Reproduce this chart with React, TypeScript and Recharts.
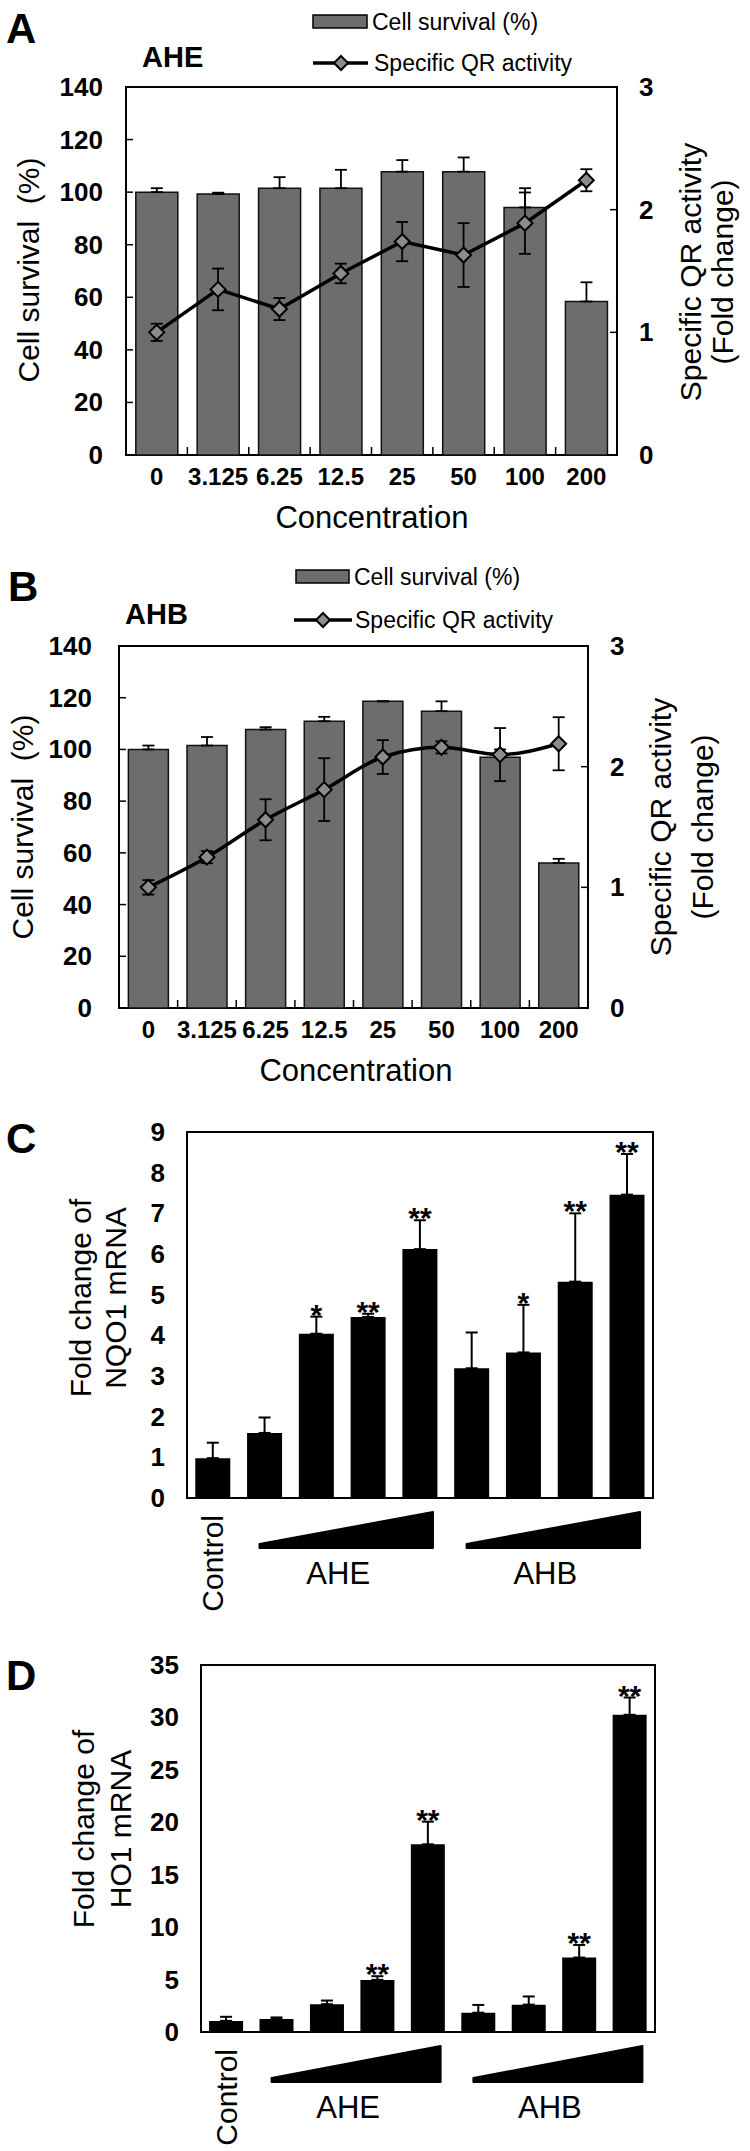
import React from "react";
import {
  ComposedChart,
  Bar,
  Line,
  XAxis,
  YAxis,
  ErrorBar,
  ReferenceArea,
  LabelList,
} from "recharts";

const FONT = "'Liberation Sans', Arial, Helvetica, sans-serif";

// ---------- Panels A & B : cell survival + specific QR activity ----------
const concentrations = ["0", "3.125", "6.25", "12.5", "25", "50", "100", "200"];

const survivalAHE = [100, 99.3, 101.5, 101.5, 107.8, 107.8, 94.2, 58.4];
const survivalErrAHE = [1.5, 0.5, 4.2, 7.0, 4.4, 5.4, 7.3, 7.3];
const qrAHE = [1.0, 1.35, 1.19, 1.48, 1.74, 1.63, 1.89, 2.24];
const qrErrAHE = [0.07, 0.17, 0.09, 0.08, 0.16, 0.26, 0.25, 0.09];

const survivalAHB = [100, 101.5, 107.7, 110.9, 118.6, 114.8, 97, 56.1];
const survivalErrAHB = [1.5, 3.3, 0.9, 1.7, 0, 3.8, 3, 1.6];
const qrAHB = [1.0, 1.25, 1.56, 1.81, 2.08, 2.16, 2.1, 2.19];
const qrErrAHB = [0.06, 0.05, 0.17, 0.26, 0.14, 0.05, 0.22, 0.22];

const survivalTicks = [0, 20, 40, 60, 80, 100, 120, 140];
const qrTicks = [0, 1, 2, 3];

// ---------- Panels C & D : mRNA fold change ----------
const treatments = ["Control", "AHE 1", "AHE 2", "AHE 3", "AHE 4", "AHB 1", "AHB 2", "AHB 3", "AHB 4"];
const groupLabels = ["AHE", "AHB"];

const nqo1 = [0.98, 1.6, 4.04, 4.45, 6.12, 3.19, 3.58, 5.32, 7.46];
const nqo1Err = [0.38, 0.38, 0.42, 0.08, 0.71, 0.88, 1.17, 1.68, 1.0];
const nqo1Stars = ["", "", "*", "**", "**", "", "*", "**", "**"];
const nqo1Ticks = [0, 1, 2, 3, 4, 5, 6, 7, 8, 9];

const ho1 = [1.06, 1.23, 2.65, 4.97, 17.9, 1.84, 2.61, 7.1, 30.25];
const ho1Err = [0.39, 0.16, 0.35, 0.35, 2.16, 0.74, 0.78, 1.2, 1.65];
const ho1Stars = ["", "", "", "**", "**", "", "", "**", "**"];
const ho1Ticks = [0, 5, 10, 15, 20, 25, 30, 35];

const survivalData = (s: number[], se: number[], q: number[], qe: number[]) =>
  concentrations.map((c, i) => ({ c, surv: s[i], survErr: [0, se[i]], qr: q[i], qrErr: qe[i] }));

const expressionData = (v: number[], e: number[], st: string[]) =>
  treatments.map((t, i) => ({ t, v: v[i], err: [0, e[i]], star: st[i] }));

// ---------- tick renderers ----------
function makeLeftTick(gap: number, fontSize: number, mark: number) {
  return (props: any) => {
    const { x, y, payload } = props;
    return (
      <g>
        {mark > 0 && <line x1={x} x2={x + mark} y1={y} y2={y} stroke="#000" strokeWidth={1.5} />}
        <text x={x - gap} y={y} textAnchor="end" dominantBaseline="central" fontFamily={FONT} fontWeight={700} fontSize={fontSize} fill="#000">
          {payload.value}
        </text>
      </g>
    );
  };
}

function makeRightTick(gap: number, fontSize: number, mark: number) {
  return (props: any) => {
    const { x, y, payload } = props;
    return (
      <g>
        {mark > 0 && <line x1={x - mark} x2={x} y1={y} y2={y} stroke="#000" strokeWidth={1.5} />}
        <text x={x + gap} y={y} textAnchor="start" dominantBaseline="central" fontFamily={FONT} fontWeight={700} fontSize={fontSize} fill="#000">
          {payload.value}
        </text>
      </g>
    );
  };
}

function makeConcTick(halfBand: number, dy: number) {
  return (props: any) => {
    const { x, y, payload, index } = props;
    const half = payload && payload.offset ? payload.offset : halfBand;
    return (
      <g>
        {index > 0 && <line x1={x - half} x2={x - half} y1={y} y2={y - 8} stroke="#000" strokeWidth={1.5} />}
        <text x={x} y={y + dy} textAnchor="middle" dominantBaseline="central" fontFamily={FONT} fontWeight={700} fontSize={24} fill="#000">
          {payload.value}
        </text>
      </g>
    );
  };
}

function makeGroupTick(halfBand: number) {
  return (props: any) => {
    const { x, y, index } = props;
    const half = props.payload && props.payload.offset ? props.payload.offset : halfBand;
    const band = half * 2;
    if (index === 0) {
      return (
        <text transform={`translate(${x},${y + 17}) rotate(-90)`} textAnchor="end" dominantBaseline="central" fontFamily={FONT} fontSize={30} fill="#000">
          Control
        </text>
      );
    }
    if (index === 1 || index === 5) {
      const label = groupLabels[index === 1 ? 0 : 1];
      const xl = x - 0.1 * band;
      const xr = x + 3.25 * band;
      const yt = y + 14;
      const yb = y + 50;
      return (
        <g>
          <polygon points={`${xl},${yb - 4} ${xr},${yt} ${xr},${yb} ${xl},${yb}`} fill="#000" stroke="#000" strokeWidth={2} strokeLinejoin="round" />
          <text x={(xl + xr) / 2 - 8} y={y + 75} textAnchor="middle" dominantBaseline="central" fontFamily={FONT} fontSize={31} fill="#000">
            {label}
          </text>
        </g>
      );
    }
    return <g />;
  };
}

const diamondDot = (p: any) => {
  const { cx, cy, index } = p;
  if (cx == null || cy == null) return <g key={`d${index}`} />;
  return (
    <polygon
      key={`d${index}`}
      points={`${cx},${cy - 7.5} ${cx + 7.5},${cy} ${cx},${cy + 7.5} ${cx - 7.5},${cy}`}
      fill="#8c8c8c"
      stroke="#000"
      strokeWidth={2}
    />
  );
};

function makeStarLabel(vals: number[], errs: number[], stars: string[]) {
  return (props: any) => {
    const { x, y, width, height, index } = props;
    const s = stars[index];
    if (!s) return <g />;
    const px = height / vals[index];
    const top = y - errs[index] * px;
    return (
      <text x={x + width / 2} y={top + 8} textAnchor="middle" fontFamily={FONT} fontWeight={700} fontSize={30} fill="#000">
        {s}
      </text>
    );
  };
}

type SurvCfg = { top: number; height: number; marginTop: number; xAxisHeight: number; leftW: number; rightW: number; leftGap: number; rightGap: number };

function SurvivalPanel({ cfg, data, lineType }: { cfg: SurvCfg; data: any[]; lineType: any }) {
  const plotW = 750 - cfg.leftW - cfg.rightW;
  const half = plotW / concentrations.length / 2;
  return (
    <div style={{ position: "absolute", left: 0, top: cfg.top }}>
      <ComposedChart width={750} height={cfg.height} data={data} margin={{ top: cfg.marginTop, right: 0, bottom: 0, left: 0 }} barCategoryGap="16%">
        <XAxis dataKey="c" height={cfg.xAxisHeight} interval={0} tickSize={0} tickMargin={0} axisLine={false} tickLine={false} tick={makeConcTick(half, 21)} />
        <YAxis yAxisId="left" orientation="left" width={cfg.leftW} domain={[0, 140]} ticks={survivalTicks} interval={0} tickSize={0} tickMargin={0} axisLine={false} tickLine={false} tick={makeLeftTick(cfg.leftGap, 26, 7)} />
        <YAxis yAxisId="right" orientation="right" width={cfg.rightW} domain={[0, 3]} ticks={qrTicks} interval={0} tickSize={0} tickMargin={0} axisLine={false} tickLine={false} tick={makeRightTick(cfg.rightGap, 26, 7)} />
        <Bar yAxisId="left" dataKey="surv" fill="#6d6d6d" stroke="#111" strokeWidth={1.5} isAnimationActive={false}>
          <ErrorBar dataKey="survErr" width={6} stroke="#000" strokeWidth={1.8} direction="y" />
        </Bar>
        <Line yAxisId="right" dataKey="qr" type={lineType} stroke="#000" strokeWidth={3.5} dot={diamondDot} activeDot={false} isAnimationActive={false}>
          <ErrorBar dataKey="qrErr" width={6} stroke="#000" strokeWidth={1.8} direction="y" />
        </Line>
        <ReferenceArea yAxisId="left" y1={0} y2={140} fill="none" fillOpacity={0} stroke="#000" strokeWidth={2} ifOverflow="visible" />
      </ComposedChart>
    </div>
  );
}

type ExprCfg = { top: number; height: number; marginTop: number; xAxisHeight: number; leftW: number; rightM: number };

function ExpressionPanel({ cfg, data, ticks, vals, errs, stars }: { cfg: ExprCfg; data: any[]; ticks: number[]; vals: number[]; errs: number[]; stars: string[] }) {
  const plotW = 750 - cfg.leftW - cfg.rightM;
  const half = plotW / treatments.length / 2;
  const max = ticks[ticks.length - 1];
  return (
    <div style={{ position: "absolute", left: 0, top: cfg.top }}>
      <ComposedChart width={750} height={cfg.height} data={data} margin={{ top: cfg.marginTop, right: cfg.rightM, bottom: 0, left: 0 }} barCategoryGap="16%">
        <XAxis dataKey="t" height={cfg.xAxisHeight} interval={0} tickSize={0} tickMargin={0} axisLine={false} tickLine={false} tick={makeGroupTick(half)} />
        <YAxis width={cfg.leftW} domain={[0, max]} ticks={ticks} interval={0} tickSize={0} tickMargin={0} axisLine={false} tickLine={false} tick={makeLeftTick(22, 26, 0)} />
        <Bar dataKey="v" fill="#000" isAnimationActive={false}>
          <ErrorBar dataKey="err" width={6} stroke="#000" strokeWidth={2} direction="y" />
          <LabelList dataKey="star" content={makeStarLabel(vals, errs, stars)} />
        </Bar>
        <ReferenceArea y1={0} y2={max} fill="none" fillOpacity={0} stroke="#000" strokeWidth={2} ifOverflow="visible" />
      </ComposedChart>
    </div>
  );
}

const txt = { fontFamily: FONT, fill: "#000" } as const;

function Overlay() {
  const legendDiamond = (cx: number, cy: number) => (
    <polygon points={`${cx},${cy - 7} ${cx + 7},${cy} ${cx},${cy + 7} ${cx - 7},${cy}`} fill="#8c8c8c" stroke="#000" strokeWidth={2} />
  );
  return (
    <svg width={750} height={2151} style={{ position: "absolute", left: 0, top: 0, pointerEvents: "none" }}>
      {/* Panel A */}
      <text x={6} y={43} {...txt} fontSize={42} fontWeight={700}>A</text>
      <rect x={313} y={15} width={54} height={13} fill="#6d6d6d" stroke="#000" strokeWidth={1.5} />
      <text x={372} y={22} {...txt} fontSize={23} dominantBaseline="central">Cell survival (%)</text>
      <line x1={313} x2={368} y1={63} y2={63} stroke="#000" strokeWidth={3.5} />
      {legendDiamond(341, 63)}
      <text x={374} y={63} {...txt} fontSize={23} dominantBaseline="central">Specific QR activity</text>
      <text x={142} y={67} {...txt} fontSize={29} fontWeight={700}>AHE</text>
      <text x={372} y={517} {...txt} fontSize={31} textAnchor="middle" dominantBaseline="central">Concentration</text>
      <text transform="translate(28,270) rotate(-90)" {...txt} fontSize={30} textAnchor="middle" dominantBaseline="central">{"Cell survival\u00A0 (%)"}</text>
      <text transform="translate(690,272) rotate(-90)" {...txt} fontSize={30} textAnchor="middle" dominantBaseline="central">Specific QR activity</text>
      <text transform="translate(722,272) rotate(-90)" {...txt} fontSize={30} textAnchor="middle" dominantBaseline="central">(Fold change)</text>

      {/* Panel B */}
      <text x={8} y={601} {...txt} fontSize={42} fontWeight={700}>B</text>
      <rect x={296} y={570} width={53} height={13} fill="#6d6d6d" stroke="#000" strokeWidth={1.5} />
      <text x={354} y={577} {...txt} fontSize={23} dominantBaseline="central">Cell survival (%)</text>
      <line x1={294} x2={352} y1={620} y2={620} stroke="#000" strokeWidth={3.5} />
      {legendDiamond(323, 620)}
      <text x={355} y={620} {...txt} fontSize={23} dominantBaseline="central">Specific QR activity</text>
      <text x={125} y={624} {...txt} fontSize={29} fontWeight={700}>AHB</text>
      <text x={356} y={1070} {...txt} fontSize={31} textAnchor="middle" dominantBaseline="central">Concentration</text>
      <text transform="translate(22,827) rotate(-90)" {...txt} fontSize={30} textAnchor="middle" dominantBaseline="central">{"Cell survival\u00A0 (%)"}</text>
      <text transform="translate(660,827) rotate(-90)" {...txt} fontSize={30} textAnchor="middle" dominantBaseline="central">Specific QR activity</text>
      <text transform="translate(702,827) rotate(-90)" {...txt} fontSize={30} textAnchor="middle" dominantBaseline="central">(Fold change)</text>

      {/* Panel C */}
      <text x={6} y={1153} {...txt} fontSize={42} fontWeight={700}>C</text>
      <text transform="translate(80,1298) rotate(-90)" {...txt} fontSize={30} textAnchor="middle" dominantBaseline="central">Fold change of</text>
      <text transform="translate(115,1298) rotate(-90)" {...txt} fontSize={30} textAnchor="middle" dominantBaseline="central">NQO1 mRNA</text>

      {/* Panel D */}
      <text x={6} y={1690} {...txt} fontSize={42} fontWeight={700}>D</text>
      <text transform="translate(83,1829) rotate(-90)" {...txt} fontSize={30} textAnchor="middle" dominantBaseline="central">Fold change of</text>
      <text transform="translate(120,1829) rotate(-90)" {...txt} fontSize={30} textAnchor="middle" dominantBaseline="central">HO1 mRNA</text>
    </svg>
  );
}

export default function App() {
  const cfgA: SurvCfg = { top: 0, height: 540, marginTop: 87, xAxisHeight: 85, leftW: 126, rightW: 133, leftGap: 23, rightGap: 22 };
  const cfgB: SurvCfg = { top: 540, height: 540, marginTop: 106, xAxisHeight: 72, leftW: 119, rightW: 162, leftGap: 27, rightGap: 22 };
  const cfgC: ExprCfg = { top: 1080, height: 560, marginTop: 52, xAxisHeight: 142, leftW: 187, rightM: 97 };
  const cfgD: ExprCfg = { top: 1640, height: 511, marginTop: 25, xAxisHeight: 119, leftW: 201, rightM: 95 };
  return (
    <div style={{ position: "absolute", left: 0, top: 0, width: 750, height: 2151, background: "#fff", overflow: "hidden" }}>
      <SurvivalPanel cfg={cfgA} data={survivalData(survivalAHE, survivalErrAHE, qrAHE, qrErrAHE)} lineType="linear" />
      <SurvivalPanel cfg={cfgB} data={survivalData(survivalAHB, survivalErrAHB, qrAHB, qrErrAHB)} lineType="monotone" />
      <ExpressionPanel cfg={cfgC} data={expressionData(nqo1, nqo1Err, nqo1Stars)} ticks={nqo1Ticks} vals={nqo1} errs={nqo1Err} stars={nqo1Stars} />
      <ExpressionPanel cfg={cfgD} data={expressionData(ho1, ho1Err, ho1Stars)} ticks={ho1Ticks} vals={ho1} errs={ho1Err} stars={ho1Stars} />
      <Overlay />
    </div>
  );
}
